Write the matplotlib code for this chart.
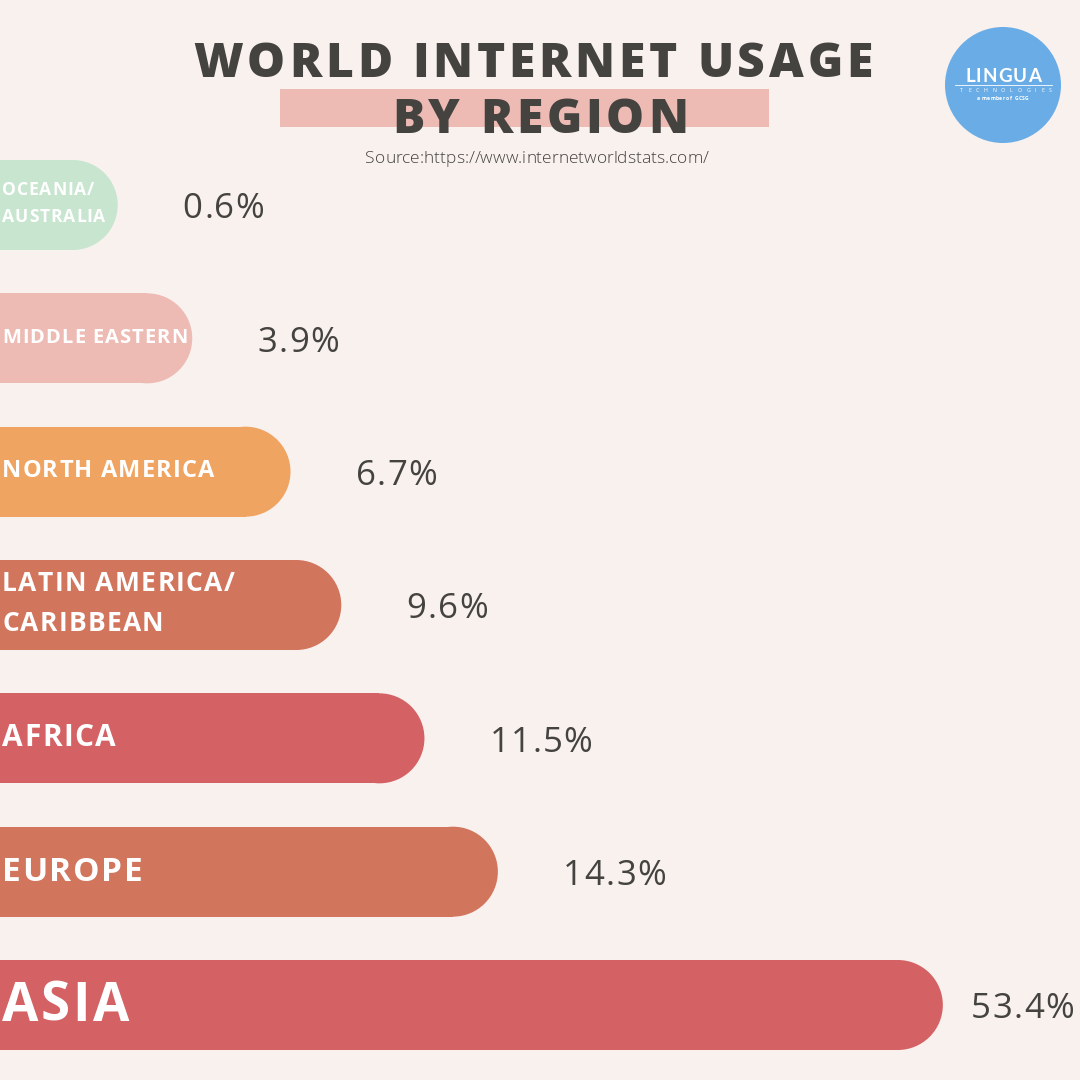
import matplotlib
matplotlib.use('Agg')
import matplotlib.pyplot as plt
from matplotlib.patches import Rectangle, Ellipse, Circle
from matplotlib.font_manager import FontProperties, findfont
from matplotlib.ft2font import FT2Font

# data
regions = ['OCEANIA/\nAUSTRALIA', 'MIDDLE EASTERN', 'NORTH AMERICA',
           'LATIN AMERICA/\nCARIBBEAN', 'AFRICA', 'EUROPE', 'ASIA']
share = [0.6, 3.9, 6.7, 9.6, 11.5, 14.3, 53.4]
# bar length as drawn in the infographic (% of canvas width), not to scale
bar_len = [10.9, 17.8, 26.9, 31.6, 39.3, 46.1, 87.3]

# style
colors = ['#c7e5cf', '#edbbb4', '#f0a461', '#d2755d', '#d46163', '#d2755d', '#d46163']
label_pt = [12.6, 14.5, 17, 19, 21.5, 24, 38]
bg = '#f9f1ee'
ink = '#444340'
DPI = 100
W = 1080


fig = plt.figure(figsize=(10.8, 10.8), dpi=DPI, facecolor=bg)
ax = fig.add_axes([0, 0, 1, 1])
ax.set_facecolor(bg)
ax.set_xlim(0, 100)
ax.set_ylim(6.5625, -1.5375)
ax.axis('off')


def advances(s, prop, size):
    ft = FT2Font(findfont(prop))
    ft.set_size(size, DPI)
    return [ft.load_char(ord(c)).linearHoriAdvance / 65536 for c in s]


def tracked(s, xy, coords, dx, dy, size, weight='normal', color=ink,
            track=0.0, align='left', family='Open Sans', zorder=5, measure=False):
    # draws text one glyph at a time so letter spacing can be widened
    prop = FontProperties(family=family, weight=weight, size=size)
    adv = advances(s, prop, size)
    sp = track * size * DPI / 72
    total = sum(adv) + sp * (len(s) - 1)
    if measure:
        return total
    pen = -total / 2 if align == 'center' else 0
    for c, a in zip(s, adv):
        if c != ' ':
            ax.annotate(c, xy, xycoords=coords, xytext=(dx + pen + a / 2, dy),
                        textcoords='offset pixels', ha='center', va='baseline',
                        fontproperties=prop, color=color, zorder=zorder,
                        annotation_clip=False)
        pen += a + sp
    return total


# bars with a round right end
h = 0.675
px_x = ax.transData.transform((1, 0))[0] - ax.transData.transform((0, 0))[0]
px_y = abs(ax.transData.transform((0, 1))[1] - ax.transData.transform((0, 0))[1])
r_x = (h / 2) * px_y / px_x
vsize = 25
vcap = 0.714 * vsize * DPI / 72
for i, (L, c) in enumerate(zip(bar_len, colors)):
    ax.add_patch(Rectangle((-2, i - h / 2), L - r_x + 2, h, color=c, lw=0, zorder=2))
    ax.add_patch(Ellipse((L - r_x, i), 2 * r_x, h, color=c, lw=0, zorder=2))

    size_px = label_pt[i] * DPI / 72
    cap = 0.714 * size_px
    lines = regions[i].split('\n')
    gap = 1.52 * size_px
    for k, line in enumerate(lines):
        off = (k - (len(lines) - 1) / 2) * gap
        tracked(line, (0, i), 'data', 2, -off - cap / 2 + 3, label_pt[i],
                weight='bold', color='white', track=0.05)

    # value label: fixed gap after the bar, kept inside the canvas
    txt = f'{share[i]}%'
    tw = tracked(txt, (0, 0), 'data', 0, 0, vsize, track=0.04, measure=True)
    x_end = L * px_x
    dx = min(65, W - 6 - tw - x_end)
    tracked(txt, (L, i), 'data', dx, -vcap / 2 - 1, vsize, color=ink, track=0.04)

# title block
ax.add_patch(Rectangle((280 / W, 1 - 127 / W), 489 / W, 38 / W,
                       transform=fig.transFigure, color='#edbbb4', lw=0, zorder=1))
tracked('WORLD INTERNET USAGE', (533, 1003), 'figure pixels', 0, 0, 34.5,
        weight='heavy', color=ink, track=0.08, align='center')
tracked('BY REGION', (540, 947), 'figure pixels', 0, 0, 34.5,
        weight='heavy', color=ink, track=0.08, align='center')
tracked('Source:https://www.internetworldstats.com/', (537, 917), 'figure pixels',
        0, 0, 12.5, weight='light', color=ink, track=0.0, align='center')

# logo
ax.add_patch(Circle((1003 / W, 1 - 85 / W), 58 / W,
                    transform=fig.transFigure, color='#6aade6', lw=0, zorder=1))
tracked('LINGUA', (1003, W - 82), 'figure pixels', 0, 0, 13.5,
        weight='bold', color='white', track=0.06, align='center', family='Lato')
ax.plot([955 / W, 1052 / W], [1 - 85 / W, 1 - 85 / W],
        transform=fig.transFigure, color='white', lw=0.6, zorder=5)
tracked('TECHNOLOGIES', (1006, W - 92), 'figure pixels', 0, 0, 3.8,
        color='white', track=0.9, align='center')
tracked('a member of  GCSG', (1003, W - 100), 'figure pixels', 0, 0, 3.6,
        weight='bold', color='white', track=0.05, align='center')

fig.savefig('out.png', dpi=DPI, facecolor=bg)
